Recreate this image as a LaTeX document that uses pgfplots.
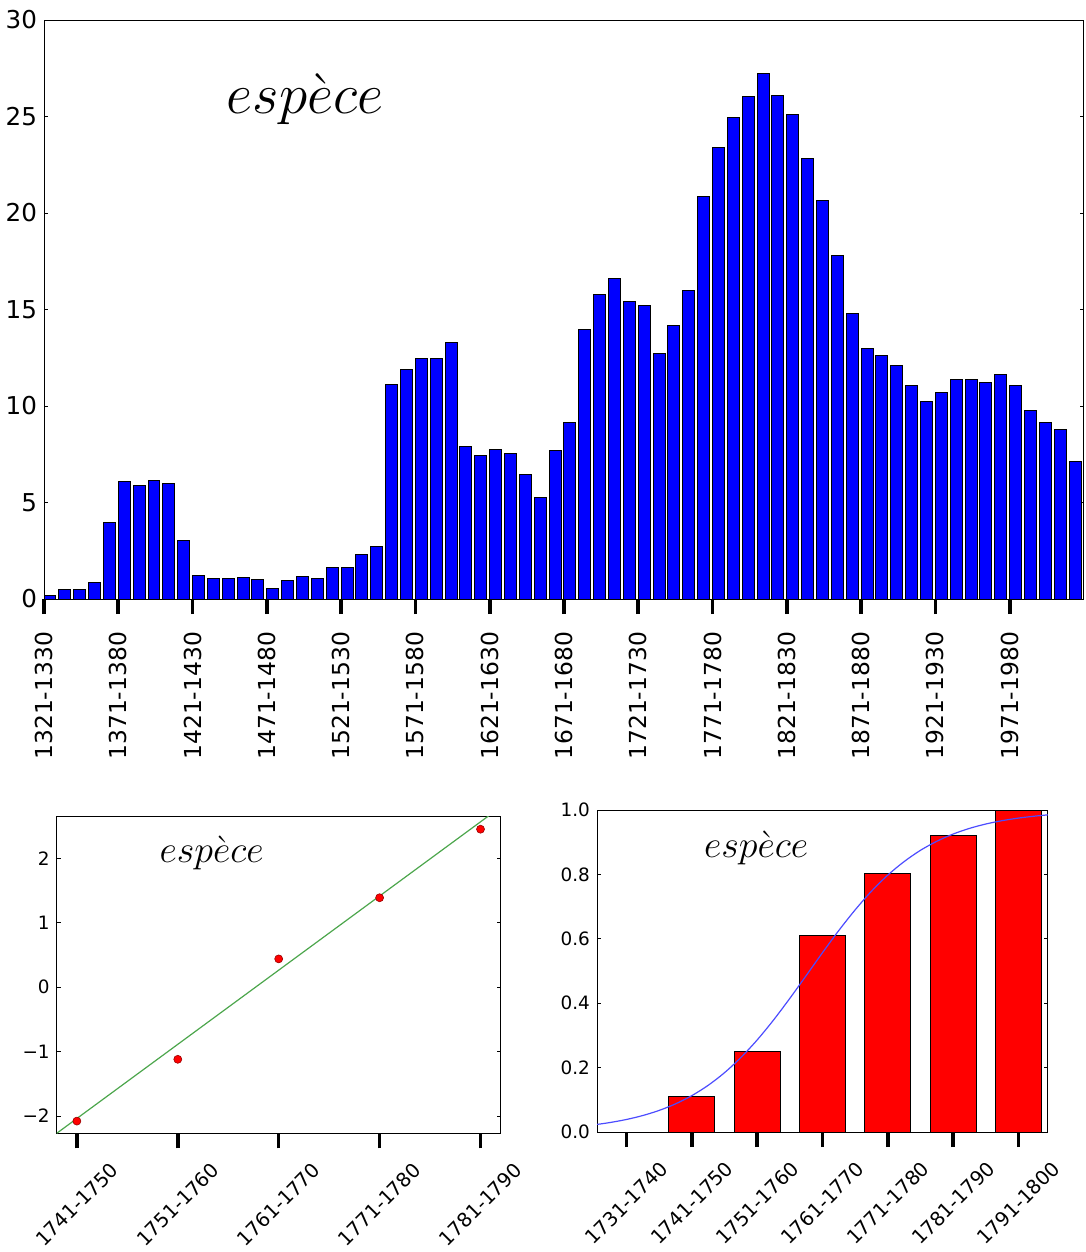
\RequirePackage{fix-cm}
\documentclass[border=0pt]{standalone}
\usepackage{fontspec}
\setmainfont{DejaVu Sans}
\usepackage{pgfplots}
\pgfplotsset{compat=1.18}
\usepackage{pgfplotstable}

\pgfplotstableread{
v
0.16
0.47
0.47
0.86
3.98
6.07
5.90
6.13
6.00
3.01
1.23
1.07
1.07
1.13
1.03
0.53
0.96
1.17
1.07
1.62
1.62
2.31
2.74
11.14
11.87
12.47
12.47
13.27
7.90
7.42
7.73
7.53
6.46
5.27
7.69
9.12
13.98
15.79
16.59
15.42
15.21
12.71
14.17
16.01
20.85
23.37
24.95
26.02
27.25
26.08
25.08
22.84
20.63
17.82
14.80
13.00
12.63
12.08
11.07
10.25
10.68
11.38
11.38
11.22
11.61
11.07
9.78
9.14
8.78
7.11
}\toptable

\pgfplotstableread{
x y
0 -2.08
1 -1.12
2 0.44
3 1.39
4 2.455
}\pointtable

\pgfplotstableread{
x y
0 0
1 0.111
2 0.250
3 0.611
4 0.802
5 0.920
6 1.000
}\bartable

\pgfplotstableread{
x y
-0.45 0.0236
-0.25 0.0295
0.00 0.0389
0.25 0.0512
0.50 0.0670
0.75 0.0873
1.00 0.1129
1.25 0.1449
1.50 0.1841
1.75 0.2311
2.00 0.2858
2.25 0.3476
2.50 0.4150
2.75 0.4857
3.00 0.5570
3.25 0.6260
3.50 0.6900
3.75 0.7480
4.00 0.7980
4.25 0.8400
4.50 0.8750
4.75 0.9030
5.00 0.9255
5.25 0.9430
5.50 0.9566
5.75 0.9670
6.00 0.9750
6.25 0.9810
6.45 0.9850
}\curvetable

\pgfplotsset{
  mpl/.style={
    scale only axis,
    axis line style={line width=0.5pt, black},
    major tick length=2pt,
    xtick align=outside,
    ytick align=inside,
    xtick pos=bottom,
    ytick pos=both,
    xtick style={line width=1.8pt, black, /pgfplots/major tick length=7.5pt},
    ytick style={line width=0.4pt, black},
    minor tick num=0,
  },
}

\begin{document}
\begin{tikzpicture}[x=1pt,y=1pt]
\useasboundingbox (0,0) rectangle (543,-626);

% ---------------- top chart ----------------
\begin{axis}[mpl,
  at={(22pt,-10pt)}, anchor=north west,
  width=520pt, height=289.5pt,
  xmin=0, xmax=70, ymin=0, ymax=30,
  xtick={0,5,10,15,20,25,30,35,40,45,50,55,60,65},
  xticklabels={1321-1330,1371-1380,1421-1430,1471-1480,1521-1530,1571-1580,1621-1630,1671-1680,1721-1730,1771-1780,1821-1830,1871-1880,1921-1930,1971-1980},
  ytick={0,5,10,15,20,25,30},
  yticklabels={0,5,10,15,20,25,30},
  xticklabel style={rotate=90, anchor=east, font=\fontsize{11.7}{14}\selectfont},
  xticklabel shift=11pt,
  yticklabel style={font=\fontsize{12.3}{14}\selectfont},
]
\addplot[ybar, bar width=0.8, fill=blue, draw=black, line width=0.5pt]
  table[x expr=\coordindex+0.4, y=v] {\toptable};
\node[anchor=base, font=\fontsize{28.6}{30}\selectfont] at (rel axis cs:0.251,0.838) {$esp\grave{e}ce$};
\end{axis}

% ---------------- bottom left ----------------
\begin{axis}[mpl,
  at={(28.35pt,-408pt)}, anchor=north west,
  width=222pt, height=158.65pt,
  xmin=-0.2, xmax=4.2, ymin=-2.27, ymax=2.66,
  xtick={0,1,2,3,4},
  xticklabels={1741-1750,1751-1760,1761-1770,1771-1780,1781-1790},
  ytick={-2,-1,0,1,2},
  yticklabels={−2,−1,0,1,2},
  xticklabel style={rotate=45, anchor=center, font=\fontsize{9.8}{11}\selectfont},
  xticklabel shift=33.5pt,
  yticklabel style={font=\fontsize{9.2}{11}\selectfont},
]
\addplot[color={rgb,1:red,0.3;green,0.65;blue,0.3}, line width=0.6pt] coordinates {(-0.2,-2.27) (4.2,2.80)};
\addplot[only marks, mark=*, mark size=2pt, mark options={fill=red, draw=red!60!black, line width=0.3pt}]
  table[x=x, y=y] {\pointtable};
\node[anchor=base, font=\fontsize{19}{21}\selectfont] at (rel axis cs:0.349,0.852) {$esp\grave{e}ce$};
\end{axis}

% ---------------- bottom right ----------------
\begin{axis}[mpl,
  at={(298.5pt,-405pt)}, anchor=north west,
  width=225.5pt, height=161pt,
  xmin=-0.45, xmax=6.45, ymin=0, ymax=1,
  xtick={0,1,2,3,4,5,6},
  xticklabels={1731-1740,1741-1750,1751-1760,1761-1770,1771-1780,1781-1790,1791-1800},
  ytick={0,0.2,0.4,0.6,0.8,1.0},
  yticklabels={0.0,0.2,0.4,0.6,0.8,1.0},
  xticklabel style={rotate=45, anchor=center, font=\fontsize{9.8}{11}\selectfont},
  xticklabel shift=33.5pt,
  yticklabel style={font=\fontsize{9.2}{11}\selectfont},
]
\addplot[ybar, bar width=0.7, fill=red, draw=black, line width=0.5pt]
  table[x=x, y=y] {\bartable};
\addplot[smooth, color={rgb,1:red,0.3;green,0.3;blue,1}, line width=0.6pt]
  table[x=x, y=y] {\curvetable};
\node[anchor=base, font=\fontsize{19}{21}\selectfont] at (rel axis cs:0.353,0.851) {$esp\grave{e}ce$};
\end{axis}
\end{tikzpicture}
\end{document}
